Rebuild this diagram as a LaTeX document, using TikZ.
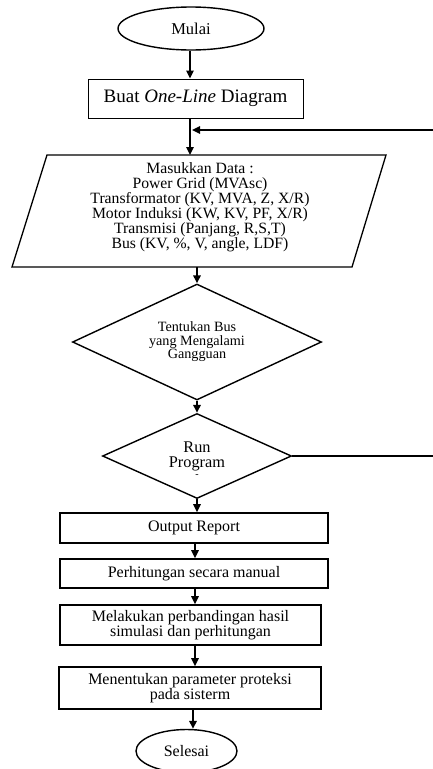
\documentclass[tikz,border=0pt]{standalone}
\usepackage{fontspec}
\setmainfont{Liberation Serif}
\usetikzlibrary{shapes.geometric,arrows.meta}
\begin{document}
\begin{tikzpicture}[x=1pt,y=-1pt,
  txt/.style={align=center, inner sep=0pt, font=\fontsize{16}{14.5}\selectfont},
  thinbox/.style={txt, draw, line width=1pt, rectangle},
  thickbox/.style={txt, draw, line width=1.7pt, rectangle},
  terminal/.style={txt, draw, line width=1.4pt, ellipse},
  decision/.style={txt, draw, line width=1.4pt, diamond},
  arr/.style={line width=1.6pt, -{Triangle[length=8pt,width=7.5pt]}},
  plain/.style={line width=1.2pt}]
\useasboundingbox (0,0) rectangle (433,769);

% terminals and boxes
\node[terminal, minimum width=146pt, minimum height=43pt, font=\fontsize{16.5}{18}\selectfont] (mulai) at (191,28.5) {Mulai};
\node[thinbox, minimum width=215pt, minimum height=39pt, font=\fontsize{19}{22}\selectfont] (buat) at (195.5,98.5) {Buat \textit{One-Line} Diagram};

% data input parallelogram
\coordinate (dTL) at (47,155);
\coordinate (dTR) at (386,155);
\coordinate (dBR) at (352,267);
\coordinate (dBL) at (12,267);
\draw[line width=1.3pt] (dTL) -- (dTR) -- (dBR) -- (dBL) -- cycle;
\node[txt, font=\fontsize{15.7}{15}\selectfont] (data) at (200,207) {Masukkan Data :\\Power Grid (MVAsc)\\Transformator (KV, MVA, Z, X/R)\\Motor Induksi (KW, KV, PF, X/R)\\Transmisi (Panjang, R,S,T)\\Bus (KV, \%, V, angle, LDF)};
\coordinate (dIn) at (190,155);
\coordinate (dOut) at (197,267);

% decisions
\node[decision, shape aspect=2.15, minimum width=249pt, minimum height=116pt, font=\fontsize{14.2}{13.5}\selectfont] (bus) at (197,342) {Tentukan Bus\\yang Mengalami\\Gangguan};
\node[decision, shape aspect=2.2, minimum width=189pt, minimum height=85pt, font=\fontsize{16.3}{15}\selectfont] (run) at (197,456) {Run\\Program};
\node[txt, font=\fontsize{10}{10}\selectfont] (runmark) at (197,476) {-};

% process boxes
\node[thickbox, minimum width=268pt, minimum height=30pt] (out) at (194,528) {Output Report};
\node[thickbox, minimum width=268pt, minimum height=29pt] (perh) at (194,573.5) {Perhitungan secara manual};
\node[thickbox, minimum width=261pt, minimum height=40pt] (mel) at (190.5,625) {Melakukan perbandingan hasil\\simulasi dan perhitungan};
\node[thickbox, minimum width=262pt, minimum height=42pt] (ment) at (190,688) {Menentukan parameter proteksi\\pada sisterm};
\node[terminal, minimum width=101pt, minimum height=43pt] (selesai) at (186.5,751) {Selesai};

% feedback loop (cut at the right edge)
\coordinate (fbTop) at (433,130);
\coordinate (fbBot) at (433,456);
\coordinate (fbIn) at (192,130);

% connectors
\draw[arr] (mulai.south -| dIn) -- (buat.north -| dIn);
\draw[arr] (buat.south -| dIn) -- (dIn);
\draw[arr] (fbTop) -- (fbIn);
\draw[arr] (dOut) -- (bus.north);
\draw[arr] (bus.south) -- (run.north);
\draw[plain] (run.east) -- (fbBot);
\draw[arr] (run.south) -- (run.south |- out.north);
\draw[arr] (out.south -| 195,0) -- (perh.north -| 195,0);
\draw[arr] (perh.south -| 195,0) -- (mel.north -| 195,0);
\draw[arr] (mel.south -| 195,0) -- (ment.north -| 195,0);
\draw[arr] (ment.south -| 193,0) -- (selesai.north -| 193,0);
\end{tikzpicture}
\end{document}
